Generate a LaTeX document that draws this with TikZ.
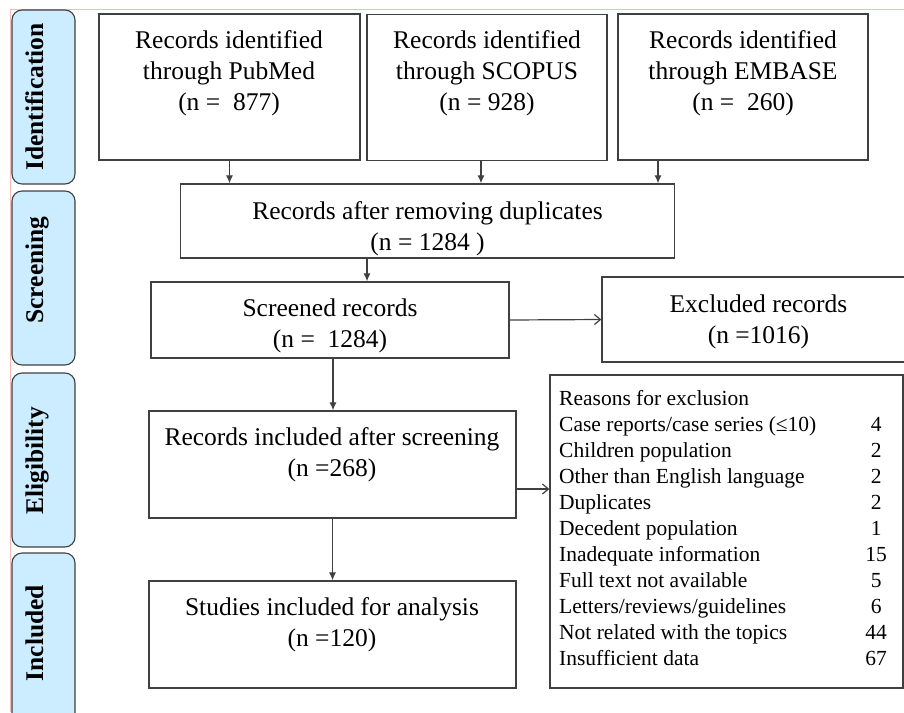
\documentclass[tikz,border=0pt]{standalone}
\usepackage{fontspec}
\setmainfont{Liberation Serif}
\usepackage{array}
\usetikzlibrary{arrows.meta}
\definecolor{stagefill}{RGB}{204,236,255}
\definecolor{edgegray}{RGB}{64,64,64}
\definecolor{pagepink}{RGB}{242,186,186}

\begin{document}
\begin{tikzpicture}[x=1pt,y=-1pt,
    box/.style={draw=edgegray, line width=1.3pt, rectangle, inner sep=0pt},
    stage/.style={draw=edgegray, fill=stagefill, line width=1.1pt, rounded corners=10pt,
      minimum width=63pt, minimum height=174pt, inner sep=0pt},
    stagetext/.style={rotate=90, text height=17pt, text depth=5pt,
      font=\fontsize{25.5}{30}\selectfont\bfseries},
    txt/.style={align=center, font=\fontsize{25.5}{31}\selectfont},
    flow/.style={-{Latex[length=8pt,width=7pt]}, line width=1.2pt, draw=edgegray},
    side/.style={-{Straight Barb[length=6pt,width=10pt]}, line width=1.2pt, draw=edgegray}]
      \useasboundingbox (0,0) rectangle (904,712);
      \clip (0,0) rectangle (904,712);
      \draw[pagepink, line width=0.8pt] (10,712) -- (10,9) -- (904,9);

      % stages
      \node[stage] (ident) at (43.5,97) {};
      \node[stagetext] (identlabel) at (37,97) {Identification};
      \node[stage] (screen) at (43.5,278) {};
      \node[stagetext] (screenlabel) at (37,270) {Screening};
      \node[stage] (elig) at (43.5,460) {};
      \node[stagetext] (eliglabel) at (37,461) {Eligibility};
      \node[stage] (incd) at (43.5,640) {};
      \node[stagetext] (incdlabel) at (37,633) {Included};

      % boxes
      \node[box, minimum width=261pt, minimum height=146pt] (pubmed) at (229.5,87) {};
      \node[txt] (pubmedtext) at (229,73) {Records identified\\through PubMed\\(n =~ 877)};
      \node[box, minimum width=240pt, minimum height=146pt] (scopus) at (487,87.5) {};
      \node[txt] (scopustext) at (487,73) {Records identified\\through SCOPUS\\(n = 928)};
      \node[box, minimum width=250pt, minimum height=146pt] (embase) at (743,87) {};
      \node[txt] (embasetext) at (743,73) {Records identified\\through EMBASE\\(n =~ 260)};
      \node[box, minimum width=494pt, minimum height=74pt] (dupl) at (427.5,221) {};
      \node[txt] (dupltext) at (427.5,229) {Records after removing duplicates\\(n = 1284 )};
      \node[box, minimum width=358pt, minimum height=76pt] (screened) at (330,320) {};
      \node[txt] (screenedtext) at (330,325.5) {Screened records\\(n =~ 1284)};
      \node[box, minimum width=313pt, minimum height=85pt] (excluded) at (758.5,319.5) {};
      \node[txt] (excludedtext) at (758.5,322) {Excluded records\\(n =1016)};
      \node[box, minimum width=367pt, minimum height=107pt] (incl) at (332.5,464.5) {};
      \node[txt] (incltext) at (332,454.5) {Records included after screening\\(n =268)};
      \node[box, minimum width=367pt, minimum height=107pt] (studies) at (332.5,634.5) {};
      \node[txt] (studiestext) at (332,624.5) {Studies included for analysis\\(n =120)};
      \node[box, minimum width=353pt, minimum height=313pt] (reasons) at (726.5,531.5) {};
      \node[anchor=north west, inner sep=0pt, font=\fontsize{21.5}{26}\selectfont] (reasonlist) at (559,387)
        {\begin{tabular}{@{}p{305pt}@{}>{\centering\arraybackslash}p{24pt}@{}}
          Reasons for exclusion & \\
          Case reports/case series (≤10) & 4\\
          Children population & 2\\
          Other than English language & 2\\
          Duplicates & 2\\
          Decedent population & 1\\
          Inadequate information & 15\\
          Full text not available & 5\\
          Letters/reviews/guidelines & 6\\
          Not related with the topics & 44\\
          Insufficient data & 67\\
        \end{tabular}};

      % arrows
      \draw[flow] (pubmed.south) -- (pubmed.south |- dupl.north);
      \draw[flow] ([xshift=-6pt]scopus.south) -- ([xshift=-6pt]scopus.south |- dupl.north);
      \draw[flow] ([xshift=-85pt]embase.south) -- ([xshift=-85pt]embase.south |- dupl.north);
      \draw[flow] ([xshift=-60.5pt]dupl.south) -- ([xshift=-60.5pt]dupl.south |- screened.north);
      \draw[side] (screened.east) -- (excluded.west);
      \draw[flow] ([xshift=3pt]screened.south) -- ([xshift=3pt]screened.south |- incl.north);
      \draw[side] ([yshift=-24.5pt]incl.east) -- ([yshift=-24.5pt]incl.east -| reasons.west);
      \draw[flow] (incl.south) -- (studies.north);
    \end{tikzpicture}
\end{document}
